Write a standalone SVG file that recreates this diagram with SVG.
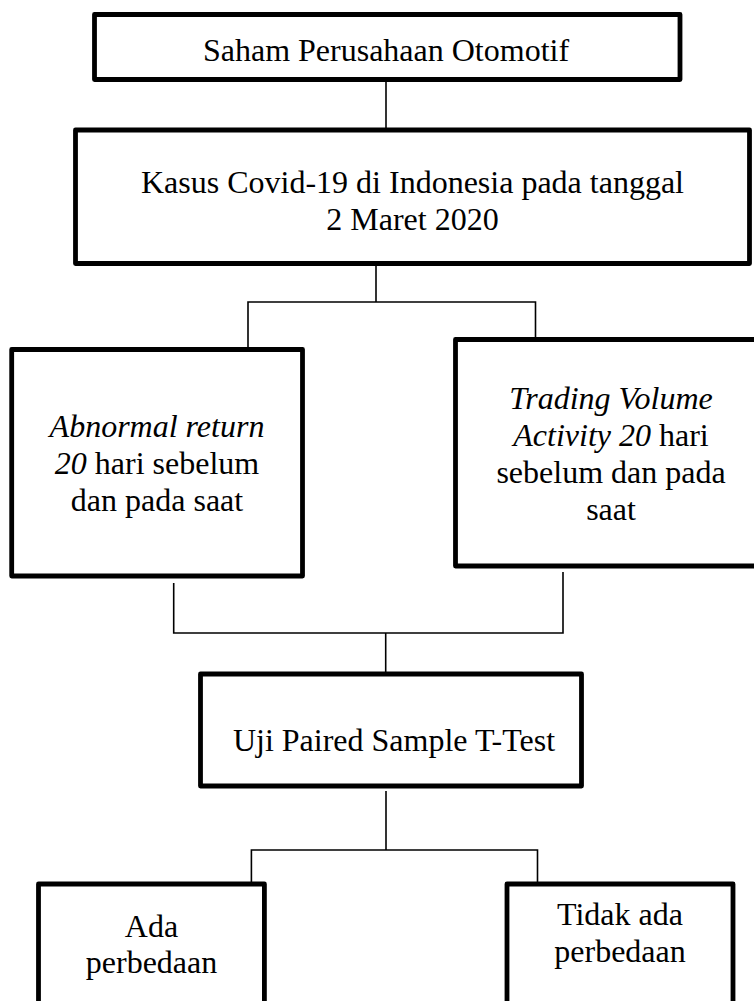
<svg xmlns="http://www.w3.org/2000/svg" width="754" height="1001" viewBox="0 0 754 1001">
<style>
.box{fill:#fff;stroke:#000;stroke-width:4.8;stroke-linejoin:round}
.con{fill:none;stroke:#000;stroke-width:1.6}
text{font-family:"Liberation Serif","Times New Roman",serif;font-size:32px;fill:#000;text-anchor:middle}
.it{font-style:italic}
</style>
<rect width="754" height="1001" fill="#fff"/>
<g id="connectors">
<line class="con" x1="386" y1="82" x2="386" y2="128"/>
<polyline class="con" points="376,266 376,302"/>
<polyline class="con" points="248,348 248,302 535.5,302 535.5,338"/>
<polyline class="con" points="173.7,583 173.7,633 563,633 563,572"/>
<line class="con" x1="385.7" y1="633" x2="385.7" y2="672"/>
<line class="con" x1="386" y1="791" x2="386" y2="850"/>
<polyline class="con" points="251.4,882 251.4,850 537.5,850 537.5,882"/>
</g>
<g id="node-saham">
<rect class="box" x="94.5" y="14.5" width="585.5" height="65"/>
<text x="386" y="60.7">Saham Perusahaan Otomotif</text>
</g>
<g id="node-kasus">
<rect class="box" x="75.5" y="130" width="674" height="133.5"/>
<text x="412.5" y="193">Kasus Covid-19 di Indonesia pada tanggal</text>
<text x="412.5" y="230">2 Maret 2020</text>
</g>
<g id="node-abnormal">
<rect class="box" x="11.7" y="349.5" width="290.8" height="226.5"/>
<text x="157" y="436.7" class="it">Abnormal return</text>
<text x="157" y="473.8"><tspan class="it">20</tspan> hari sebelum</text>
<text x="157" y="511.2">dan pada saat</text>
</g>
<g id="node-tva">
<rect class="box" x="455.5" y="339.5" width="311" height="226.5"/>
<text x="611" y="409.3" class="it">Trading Volume</text>
<text x="611" y="446.2"><tspan class="it">Activity 20</tspan> hari</text>
<text x="611" y="483.1">sebelum dan pada</text>
<text x="611" y="520">saat</text>
</g>
<g id="node-uji">
<rect class="box" x="200.5" y="674" width="381" height="112"/>
<text x="394" y="751">Uji Paired Sample T-Test</text>
</g>
<g id="node-ada">
<rect class="box" x="38.5" y="884" width="225.9" height="140"/>
<text x="151.5" y="936.7">Ada</text>
<text x="151.5" y="973.3">perbedaan</text>
</g>
<g id="node-tidak">
<rect class="box" x="507" y="884" width="226" height="140"/>
<text x="620" y="925">Tidak ada</text>
<text x="620" y="961.7">perbedaan</text>
</g>
</svg>
